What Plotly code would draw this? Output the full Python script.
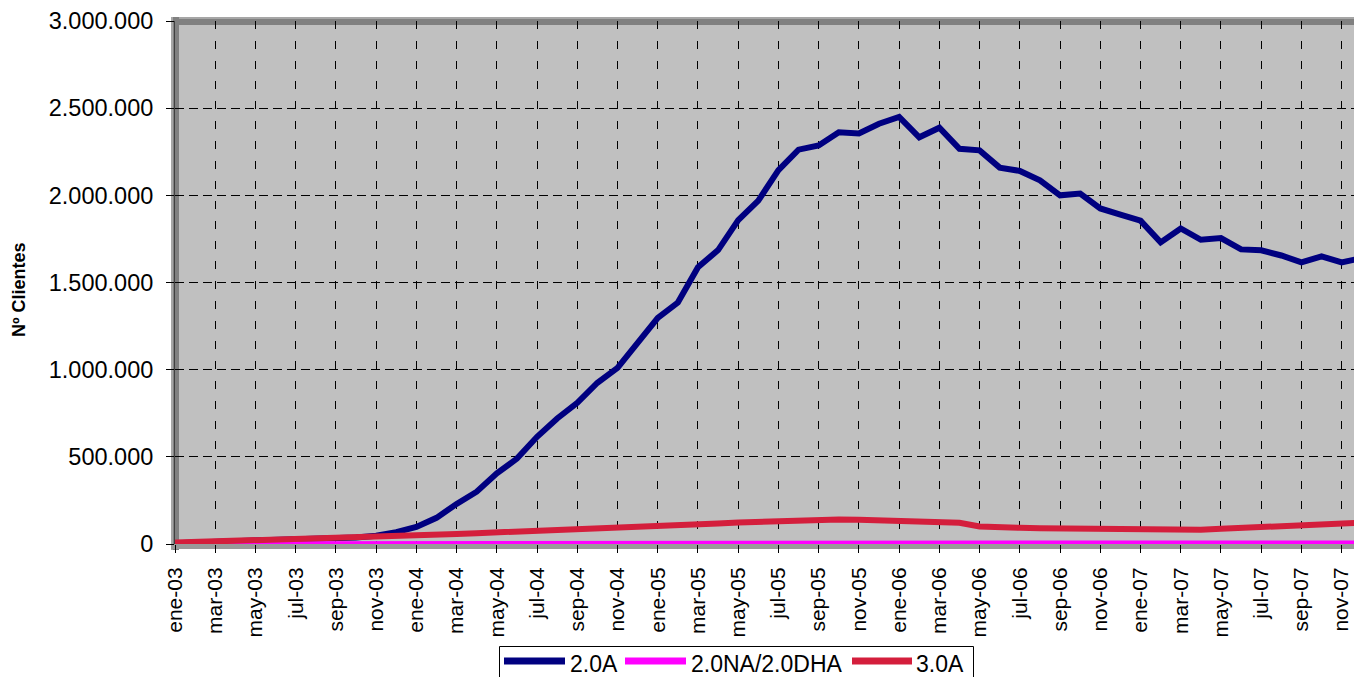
import plotly.graph_objects as go

# Monthly customer counts by tariff, Jan 2003 - Dec 2007
abreviaturas = ["ene", "feb", "mar", "abr", "may", "jun",
                "jul", "ago", "sep", "oct", "nov", "dic"]
anios = ["03", "04", "05", "06", "07"]
meses = [f"{m}-{a}" for a in anios for m in abreviaturas]

clientes_20A = [
    5000, 8000, 11000, 14000, 17000, 20000, 24000, 28000, 32000, 38000, 47000, 68000,
    98000, 150000, 230000, 300000, 405000, 490000, 615000, 720000, 810000, 925000, 1010000, 1155000,
    1297000, 1385000, 1588000, 1686000, 1858000, 1970000, 2145000, 2262000, 2286000, 2362000, 2355000, 2411000,
    2450000, 2333000, 2388000, 2267000, 2258000, 2159000, 2140000, 2086000, 2000000, 2010000, 1925000, 1890000,
    1855000, 1730000, 1810000, 1745000, 1755000, 1690000, 1685000, 1655000, 1615000, 1650000, 1615000, 1640000,
]

clientes_20NA_20DHA = [
    500, 800, 1000, 1300, 1600, 1900, 2200, 2500, 2800, 3100, 3400, 3700,
    4000, 4200, 4400, 4500, 4600, 4700, 4800, 4900, 5000, 5000, 5100, 5100,
    5200, 5200, 5300, 5300, 5300, 5400, 5400, 5400, 5500, 5500, 5500, 5500,
    5500, 5500, 5500, 5500, 5500, 5500, 5500, 5500, 5500, 5500, 5500, 5500,
    5500, 5500, 5500, 5500, 5500, 5500, 5500, 5500, 5500, 5500, 5500, 5500,
]

clientes_30A = [
    8000, 11000, 14000, 17000, 20000, 23000, 26000, 29000, 32000, 36000, 40000, 44000,
    48000, 53000, 58000, 62000, 66000, 71000, 77000, 82000, 86000, 90000, 94000, 99000,
    105000, 109000, 113000, 118000, 123000, 127000, 132000, 136000, 138000, 140000, 139000, 137000,
    135000, 131000, 128000, 122000, 100000, 94000, 93000, 91000, 90000, 88000, 86000, 86000,
    85000, 82000, 80000, 82000, 87000, 91000, 96000, 99000, 103000, 107000, 113000, 122000,
]

series = [
    ("2.0A", clientes_20A, "#000080", 6),
    ("2.0NA/2.0DHA", clientes_20NA_20DHA, "#FF00FF", 5),
    ("3.0A", clientes_30A, "#D41E3C", 6),
]

W, H = 1354, 677
L, R, T, B = 175, 0, 21, 133
PW, PH = W - L - R, H - T - B
FONT = "Liberation Sans, Arial, sans-serif"


def px_x(p):
    return (p - L) / PW


def px_y(p):
    return (H - B - p) / PH


idx = list(range(len(meses)))
fig = go.Figure()
for nombre, valores, color, ancho in series:
    fig.add_trace(go.Scatter(
        x=idx, y=valores, name=nombre, mode="lines",
        line=dict(color=color, width=ancho), showlegend=False,
        cliponaxis=True,
    ))

shapes = [
    # shaded wall edges (top, left) and floor
    dict(type="rect", xref="paper", yref="paper", layer="below",
         x0=px_x(171), x1=px_x(1360), y0=px_y(25), y1=px_y(17),
         fillcolor="#808080", line=dict(width=0)),
    dict(type="rect", xref="paper", yref="paper", layer="below",
         x0=px_x(171), x1=px_x(1360), y0=px_y(19), y1=px_y(17),
         fillcolor="#A6A6A6", line=dict(width=0)),
    dict(type="rect", xref="paper", yref="paper", layer="below",
         x0=px_x(171), x1=px_x(179), y0=px_y(550), y1=px_y(17),
         fillcolor="#808080", line=dict(width=0)),
    dict(type="rect", xref="paper", yref="paper", layer="below",
         x0=px_x(171), x1=px_x(173), y0=px_y(550), y1=px_y(17),
         fillcolor="#A6A6A6", line=dict(width=0)),
    dict(type="rect", xref="paper", yref="paper", layer="below",
         x0=px_x(171), x1=px_x(1360), y0=px_y(549), y1=px_y(544),
         fillcolor="#9A9A9A", line=dict(width=0)),
    # legend box
    dict(type="rect", xref="paper", yref="paper", layer="above",
         x0=px_x(499.5), x1=px_x(973.5), y0=px_y(700), y1=px_y(646.5),
         fillcolor="white", line=dict(color="black", width=1)),
]

annotations = [
    dict(text="<b>Nº Clientes</b>", xref="paper", yref="paper",
         x=px_x(19), y=px_y(290), textangle=-90, showarrow=False,
         xanchor="center", yanchor="middle",
         font=dict(family=FONT, size=18, color="black")),
]

# legend entries: sample line + label
leyenda = [(504, 565, 568), (625, 686, 689), (852, 912, 914)]
for (nombre, _, color, _), (x0, x1, xt) in zip(series, leyenda):
    shapes.append(dict(type="line", xref="paper", yref="paper", layer="above",
                       x0=px_x(x0), x1=px_x(x1), y0=px_y(661), y1=px_y(661),
                       line=dict(color=color, width=7)))
    annotations.append(dict(text=nombre, xref="paper", yref="paper",
                            x=px_x(xt), y=px_y(664), showarrow=False,
                            xanchor="left", yanchor="middle",
                            font=dict(family=FONT, size=23, color="black")))

fig.update_layout(
    width=W, height=H,
    margin=dict(l=L, r=R, t=T, b=B, autoexpand=False),
    paper_bgcolor="white", plot_bgcolor="#C0C0C0",
    separators=",.",
    font=dict(family=FONT, color="black"),
    shapes=shapes, annotations=annotations,
    xaxis=dict(
        range=[0, PW / 20.115], tickmode="array",
        tickvals=idx[::2], ticktext=meses[::2], tickangle=-90,
        tickfont=dict(family=FONT, size=21, color="black"),
        ticks="outside", ticklen=8, tickcolor="black", tickwidth=1,
        ticklabelstandoff=6,
        showgrid=True, gridcolor="black", gridwidth=1, griddash="8px,12px",
        zeroline=False, showline=False, fixedrange=True,
    ),
    yaxis=dict(
        range=[0, 3000000], tickmode="array",
        tickvals=[0, 500000, 1000000, 1500000, 2000000, 2500000, 3000000],
        tickformat=",d",
        tickfont=dict(family=FONT, size=23.5, color="black"),
        ticks="outside", ticklen=8, tickcolor="black", tickwidth=1,
        ticklabelstandoff=8,
        showgrid=True, gridcolor="black", gridwidth=1, griddash="9px,5px",
        zeroline=False, showline=True, linecolor="#404040", linewidth=1,
        fixedrange=True,
    ),
)

fig.write_html("out.html")
